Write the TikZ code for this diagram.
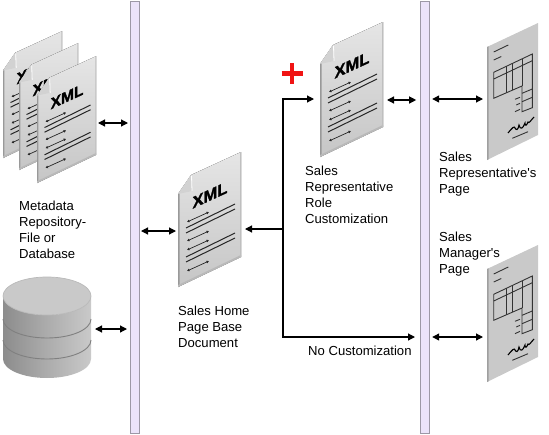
\documentclass[tikz,border=0pt]{standalone}
\usepackage{fontspec}
\setmainfont{Liberation Sans}
\newfontfamily\xmlfont[FakeBold=1.5]{Liberation Sans Bold}
\usetikzlibrary{arrows.meta}

\definecolor{barfill}{HTML}{EBE3FA}
\definecolor{baredge}{HTML}{9C98A6}
\definecolor{plusred}{HTML}{F01414}

\tikzset{
    barnode/.style = {draw=baredge, line width=1pt, fill=barfill, inner sep=0pt, minimum width=9pt, minimum height=432pt},
    lbl/.style = {anchor=north west, inner sep=0pt, align=left, font=\fontsize{13.1}{15.8}\selectfont},
    link/.style = {line width=1.2pt, black},
    oneway/.style = {link, -{Triangle[length=7pt,width=7pt]}},
    twoway/.style = {link, {Triangle[length=7pt,width=7pt]}-{Triangle[length=7pt,width=7pt]}},
    ink/.style = {line width=1pt, black!85},
    arrowink/.style = {line width=.7pt, black!85, {Latex[length=2.5pt,width=3pt]}-{Latex[length=2.5pt,width=3pt]}},
    pageink/.style = {line width=.9pt, black!80},
    xmldoc/.pic = {
        % sheet, with dark left and bottom edges
        \fill[top color=gray!20, bottom color=gray!45] (0,0) -- (0,93) -- (13,112) -- (63,135) -- (63,30) -- cycle;
        \fill[gray!80] (0,0) -- (0,93) -- (1.5,95) -- (1.5,.7) -- cycle;
        \fill[gray!55] (0,0) -- (63,30) -- (63,32) -- (0,2) -- cycle;
        \fill[gray!50] (62,30) -- (63,30) -- (63,135) -- (62,134.5) -- cycle;
        % folded corner
        \fill[gray!35] (0,93) -- (13,112) -- (14,96) -- cycle;
        \draw[white, line width=.8pt] (13.5,111) -- (14,96);
        \node[transform shape, inner sep=0pt, font=\xmlfont\fontsize{16.5}{16.5}\selectfont, cm={1,.46,0,1,(0,0)}] at (32,92) {XML};
        \draw[arrowink] (9,65) -- (31,75);
        \draw[ink] (8,59) -- (57,83);
        \draw[ink] (8,54) -- (57,78);
        \draw[arrowink] (9,46) -- (31,56);
        \draw[arrowink] (9,37) -- (31,47);
        \draw[ink] (8,30) -- (57,54);
        \draw[ink] (8,25) -- (57,49);
        \draw[arrowink] (9,16) -- (31,26);
    },
    formpage/.pic = {
        \fill[gray!42] (0,0) -- (0,113) -- (51,137) -- (51,25) -- cycle;
        \fill[gray!75] (0,0) -- (0,113) -- (1.5,113.7) -- (1.5,.7) -- cycle;
        \draw[pageink] (6.7,108) -- (21.3,115);
        \draw[pageink] (6.7,100) -- (14.3,103.5);
        % table
        \draw[pageink] (6.7,87.7) -- (45.3,106) -- (45.3,52.3) -- (35,48.3) -- (35,74) -- (6.7,61.7) -- cycle;
        \draw[pageink] (6.7,81) -- (45.3,99.3);
        \draw[pageink] (19.3,93.7) -- (19.3,67.5);
        \draw[pageink] (25.3,96.5) -- (25.3,70);
        \draw[pageink] (35,101) -- (35,74);
        \draw[pageink] (35,66.7) -- (45.3,71);
        \draw[pageink] (35,58.3) -- (45.3,62.7);
        \draw[pageink] (28,60.7) -- (33,62.7);
        \draw[pageink] (29.3,55) -- (33,56.7);
        \draw[pageink] (28,48.3) -- (33,50.7);
        % signature
        \draw[pageink, line width=1.1pt, black] (21,27) .. controls (26,33) and (27,34) .. (28,32) .. controls (29,30) and (31,29) .. (32,35) .. controls (33,30) and (36,31) .. (38,37) .. controls (38,33) and (40,35) .. (41,38) .. controls (42,36) and (44,40) .. (47,43);
        \draw[pageink] (25.3,21.7) -- (41,28.3);
    },
    dbstack/.pic = {
        \shade[left color=gray!90, right color=gray!42, middle color=gray!65] (-44,0) -- (-44,-63) arc (180:360:44 and 19) -- (44,0) arc (0:-180:44 and 19) -- cycle;
        \draw[gray, line width=.9pt] (-44,-23) arc (180:360:44 and 19);
        \draw[gray, line width=.9pt] (-44,-44) arc (180:360:44 and 19);
        \draw[gray!55, fill=gray!42, line width=.7pt] (0,0) ellipse (44 and 19);
    }
}

\begin{document}
\begin{tikzpicture}[x=1pt,y=1pt]
    \useasboundingbox (0,0) rectangle (549,-434);

    \node[barnode] (barLeft) at (135,-217) {};
    \node[barnode] (barRight) at (425.2,-217) {};

    % documents and pages
    \pic[scale=.94] (repoBack) at (3,-158) {xmldoc};
    \pic[scale=.94] (repoMid) at (19,-170) {xmldoc};
    \pic[scale=.94] (repoFront) at (37,-183) {xmldoc};
    \pic (base) at (178,-287) {xmldoc};
    \pic (salesRep) at (320,-157) {xmldoc};
    \pic (repPage) at (487,-160) {formpage};
    \pic (mgrPage) at (487,-382) {formpage};
    \pic (database) at (47,-296) {dbstack};

    % red plus
    \draw[plusred, line width=4.4pt] (281.5,-73.5) -- (303,-73.5);
    \draw[plusred, line width=4.4pt] (292,-63) -- (292,-84);

    % labels
    \node[lbl] (repoText) at (19,-201) {Metadata\\Repository-\\File or\\Database};
    \node[lbl] (baseText) at (178,-306) {Sales Home\\Page Base\\Document};
    \node[lbl] (roleText) at (305,-166) {Sales\\Representative\\Role\\Customization};
    \node[lbl] (noneText) at (308,-345.5) {No Customization};
    \node[lbl] (repText) at (439,-152) {Sales\\Representative\textquotesingle s\\Page};
    \node[lbl] (mgrText) at (439,-232) {Sales\\Manager\textquotesingle s\\Page};

    % ports
    \coordinate (repoOut) at (98,-123);
    \coordinate (dbOut) at (95,-329);
    \coordinate (baseWest) at (176,-231);
    \coordinate (baseEast) at (245,-229);
    \coordinate (split) at (283,-229);
    \coordinate (roleIn) at (314,-99);
    \coordinate (roleOut) at (387,-100);
    \coordinate (noneEnd) at (415,-337);
    \coordinate (repIn) at (483,-99);
    \coordinate (mgrIn) at (483,-337);

    % connectors
    \draw[twoway, shorten >=2pt] (repoOut) -- (repoOut -| barLeft.west);
    \draw[twoway, shorten >=3pt] (dbOut) -- (dbOut -| barLeft.west);
    \draw[twoway, shorten <=1pt] (baseWest -| barLeft.east) -- (baseWest);
    \draw[oneway] (split) -- (baseEast);
    \draw[oneway] (split) |- (roleIn);
    \draw[oneway] (split) |- (noneEnd);
    \draw[twoway, shorten >=4pt] (roleOut) -- (roleOut -| barRight.west);
    \draw[twoway, shorten <=2pt] (repIn -| barRight.east) -- (repIn);
    \draw[twoway, shorten <=2pt] (mgrIn -| barRight.east) -- (mgrIn);
\end{tikzpicture}
\end{document}
